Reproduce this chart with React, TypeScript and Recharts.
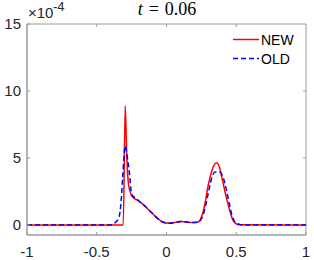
import { LineChart, Line, XAxis, YAxis, ReferenceArea, ReferenceLine } from 'recharts'

const xTicks = [-1, -0.5, 0, 0.5, 1]
const yTicks = [0, 5, 10, 15]

// NEW scheme (red, solid), values in units of 1e-4
const newX = [-1, -0.31, -0.296, -0.285, -0.272, -0.255, -0.24, -0.22, -0.2, -0.17, -0.14, -0.1, -0.06, -0.027, 0.02, 0.06, 0.1, 0.14, 0.18, 0.22, 0.24, 0.27, 0.3, 0.33, 0.357, 0.38, 0.4, 0.43, 0.45, 0.47, 0.49, 0.52, 1]
const newY = [0, 0, 8.9, 5.2, 3.0, 2.3, 2.05, 1.9, 1.8, 1.55, 1.25, 0.85, 0.45, 0.22, 0.12, 0.18, 0.25, 0.22, 0.18, 0.2, 0.35, 1.3, 3.0, 4.2, 4.65, 4.3, 3.4, 2.0, 1.2, 0.5, 0.15, 0.02, 0]

// OLD scheme (blue, dashed)
const oldX = [-1, -0.4, -0.37, -0.34, -0.325, -0.314, -0.296, -0.28, -0.266, -0.25, -0.235, -0.215, -0.2, -0.17, -0.14, -0.1, -0.06, -0.027, 0.02, 0.06, 0.1, 0.14, 0.18, 0.22, 0.24, 0.27, 0.3, 0.33, 0.35, 0.38, 0.4, 0.43, 0.45, 0.47, 0.49, 0.52, 0.55, 1]
const oldY = [0, 0, 0.15, 0.6, 1.8, 3.6, 5.9, 5.0, 3.9, 2.3, 2.1, 2.0, 1.8, 1.55, 1.25, 0.85, 0.45, 0.22, 0.12, 0.18, 0.25, 0.22, 0.18, 0.2, 0.3, 1.0, 2.4, 3.7, 3.95, 3.95, 3.7, 2.6, 1.6, 0.7, 0.25, 0.05, 0, 0]

const newData = newX.map((x, i) => ({ x, y: newY[i] }))
const oldData = oldX.map((x, i) => ({ x, y: oldY[i] }))

const sans = 'Liberation Sans, Arial, sans-serif'
const tickFont = { fontSize: 15, fill: '#262626', fontFamily: sans }
const frame = '#9a9a9a'

export default function App() {
  return (
    <div style={{ position: 'absolute', left: 0, top: 0, width: 314, height: 260, background: '#fff' }}>
      <LineChart width={314} height={260} margin={{ top: 24, right: 8, left: 0, bottom: 0 }}>
        <XAxis
          dataKey="x"
          type="number"
          domain={[-1, 1]}
          ticks={xTicks}
          allowDataOverflow
          height={25}
          stroke={frame}
          tickSize={-3}
          tickMargin={14}
          tick={tickFont}
        />
        <YAxis
          type="number"
          domain={[-0.75, 15]}
          ticks={yTicks}
          allowDataOverflow
          width={27}
          stroke={frame}
          tickSize={-3}
          tickMargin={9}
          tick={tickFont}
        />
        <ReferenceArea x1={-1} x2={1} y1={-0.75} y2={15} fill="none" stroke={frame} strokeWidth={1} />
        {xTicks.slice(1, -1).map((t) => (
          <ReferenceLine key={'tx' + t} segment={[{ x: t, y: 15 }, { x: t, y: 14.78 }]} stroke={frame} />
        ))}
        {yTicks.slice(1, -1).map((t) => (
          <ReferenceLine key={'ty' + t} segment={[{ x: 1, y: t }, { x: 0.979, y: t }]} stroke={frame} />
        ))}
        <Line data={newData} dataKey="y" name="NEW" type="monotone" stroke="#ff0000" strokeWidth={1.5} dot={false} isAnimationActive={false} />
        <Line data={oldData} dataKey="y" name="OLD" type="monotone" stroke="#0000ff" strokeWidth={1.5} strokeDasharray="5 3" dot={false} isAnimationActive={false} />
      </LineChart>
      <svg width={76} height={40} style={{ position: 'absolute', left: 230, top: 30, fontFamily: sans }}>
        <line x1={3} y1={9.5} x2={29} y2={9.5} stroke="#ff0000" strokeWidth={1.5} />
        <text x={31} y={15} fontSize={14} fill="#000">NEW</text>
        <line x1={3} y1={28.5} x2={29} y2={28.5} stroke="#0000ff" strokeWidth={1.5} strokeDasharray="5 3" />
        <text x={31} y={34} fontSize={14} fill="#000">OLD</text>
      </svg>
      <svg width={120} height={22} style={{ position: 'absolute', left: 26, top: 0, fontFamily: sans }}>
        <text x={2} y={18} fontSize={15} fill="#262626">×10</text>
        <text x={27} y={11} fontSize={13} fill="#262626">-4</text>
      </svg>
      <svg width={120} height={22} style={{ position: 'absolute', left: 107, top: 0, fontFamily: 'Liberation Serif, serif' }}>
        <text x={60} y={15} fontSize={18} textAnchor="middle" fill="#000">
          <tspan fontStyle="italic">t</tspan>
          <tspan dx={6}>=</tspan>
          <tspan dx={6}>0.06</tspan>
        </text>
      </svg>
    </div>
  )
}
